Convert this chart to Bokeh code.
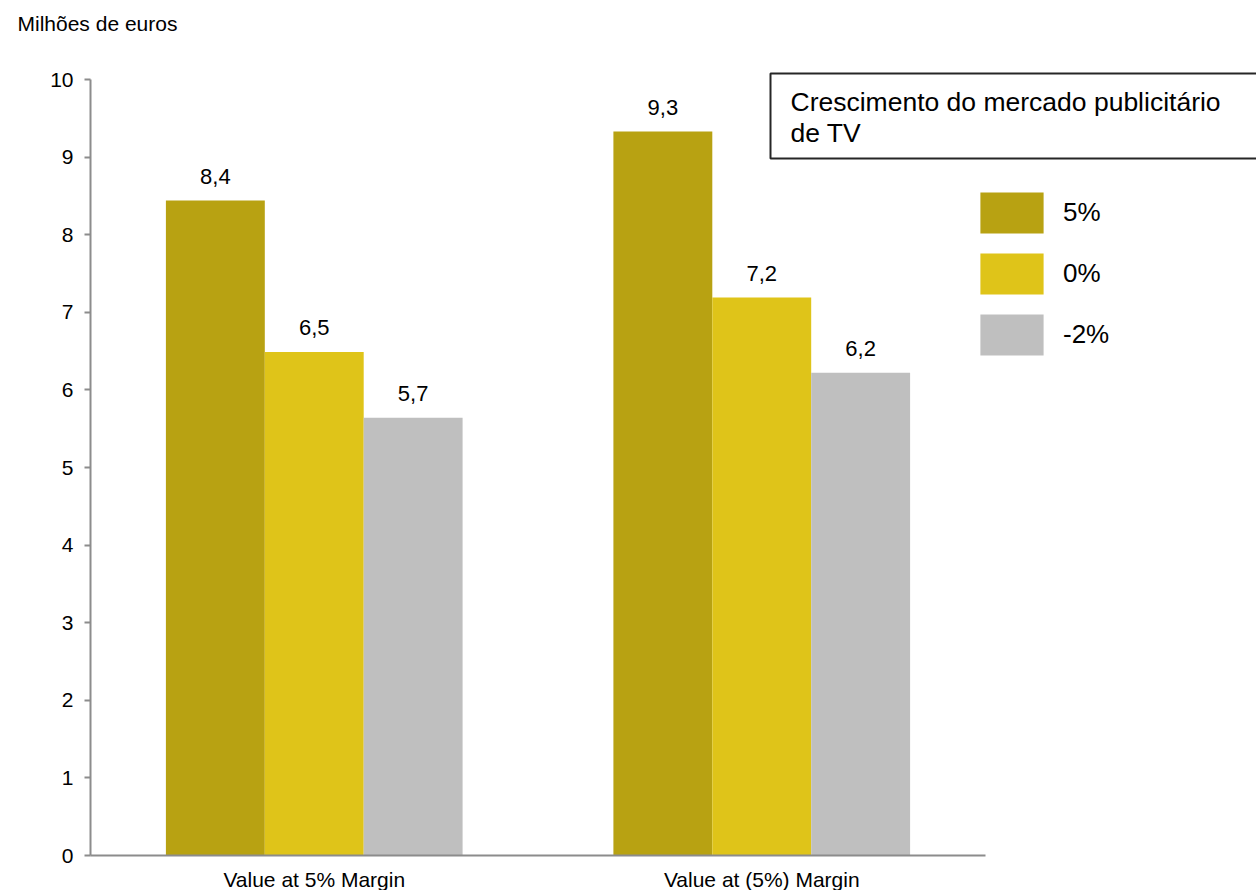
import numpy as np
from bokeh.plotting import figure
from bokeh.models import (ColumnDataSource, Range1d, FixedTicker, Legend, LegendItem,
                          Label, BoxAnnotation)
from bokeh.core.properties import value
from bokeh.embed import file_html
from bokeh.resources import INLINE

# ---- data ----
groups = ["Value at 5% Margin", "Value at (5%) Margin"]
series_names = ["5%", "0%", "-2%"]
growth_5 = [8.44, 9.33]
growth_0 = [6.49, 7.19]
growth_m2 = [5.64, 6.22]
labels_5 = ["8,4", "9,3"]
labels_0 = ["6,5", "7,2"]
labels_m2 = ["5,7", "6,2"]
y_ticks = [0, 1, 2, 3, 4, 5, 6, 7, 8, 9, 10]
unit_label = "Milhões de euros"
legend_title_lines = ["Crescimento do mercado publicitário", "de TV"]

# ---- styles / layout ----
FONT = "Liberation Sans"
bar_colors = ["#B8A212", "#DFC419", "#BFBFBF"]
AXIS_COLOR = "#8C8C8C"
BAR_W = 0.221
W, H = 1256, 890
AX_LEFT, AX_BOTTOM = 90, 855          # pixel position of the axes' origin
PX_PER_GROUP, PX_PER_UNIT = 447.5, 77.6

centers = np.arange(len(groups)) + 0.5
x_range = Range1d(-AX_LEFT / PX_PER_GROUP, (W - AX_LEFT) / PX_PER_GROUP)
y_range = Range1d(-(H - AX_BOTTOM) / PX_PER_UNIT, AX_BOTTOM / PX_PER_UNIT)

p = figure(width=W, height=H, x_range=x_range, y_range=y_range,
           output_backend="svg", toolbar_location=None,
           min_border_left=0, min_border_right=0, min_border_top=0, min_border_bottom=0)
p.outline_line_color = None
p.grid.grid_line_color = None
p.background_fill_color = "white"
p.border_fill_color = "white"

series = [growth_5, growth_0, growth_m2]
labels = [labels_5, labels_0, labels_m2]
offsets = [-BAR_W, 0.0, BAR_W]
leg_items = []
for name, vals, labs, off, color in zip(series_names, series, labels, offsets, bar_colors):
    src = ColumnDataSource(dict(x=centers + off, top=vals, lab=labs))
    r = p.vbar(x="x", top="top", width=BAR_W, source=src, fill_color=color, line_color=None)
    leg_items.append(LegendItem(label=name, renderers=[r]))
    p.text(x="x", y="top", text="lab", source=src,
           text_align="center", text_baseline="alphabetic", y_offset=-24,
           text_font=value(FONT), text_font_size="22px", text_color="black")

legend = Legend(items=leg_items, location=(972, H - 360), orientation="vertical",
                glyph_width=79, glyph_height=51, spacing=10, padding=0, margin=0,
                label_standoff=12, label_text_font=FONT, label_text_font_size="26px",
                label_text_color="black", border_line_color=None, background_fill_alpha=0)
p.add_layout(legend)

# y axis
p.yaxis.fixed_location = 0
p.yaxis.bounds = (0, 10)
p.yaxis.ticker = FixedTicker(ticks=y_ticks)
p.yaxis.axis_line_color = AXIS_COLOR
p.yaxis.axis_line_width = 2
p.yaxis.major_tick_line_color = AXIS_COLOR
p.yaxis.major_tick_line_width = 2
p.yaxis.major_tick_out = 6
p.yaxis.major_tick_in = 0
p.yaxis.minor_tick_line_color = None
p.yaxis.major_label_standoff = 11
p.yaxis.major_label_text_font = FONT
p.yaxis.major_label_text_font_size = "21px"
p.yaxis.major_label_text_color = "black"

# x axis
p.xaxis.fixed_location = 0
p.xaxis.bounds = (0, len(groups))
p.xaxis.ticker = FixedTicker(ticks=list(centers))
p.xaxis.major_label_overrides = {float(c): g for c, g in zip(centers, groups)}
p.xaxis.axis_line_color = AXIS_COLOR
p.xaxis.axis_line_width = 2
p.xaxis.major_tick_line_color = None
p.xaxis.minor_tick_line_color = None
p.xaxis.major_label_standoff = 6
p.xaxis.major_label_text_font = FONT
p.xaxis.major_label_text_font_size = "21px"
p.xaxis.major_label_text_color = "black"

# unit label
p.add_layout(Label(x=17, y=H - 23, x_units="screen", y_units="screen", text=unit_label,
                   text_font=FONT, text_font_size="21px", text_color="black",
                   text_baseline="alphabetic"))

# legend title box
p.add_layout(BoxAnnotation(left=770, right=1300, bottom=H - 158, top=H - 73,
                           left_units="screen", right_units="screen",
                           bottom_units="screen", top_units="screen",
                           fill_alpha=0, fill_color=None, line_color="#262626",
                           line_alpha=1, line_width=2))
for i, line in enumerate(legend_title_lines):
    p.add_layout(Label(x=790, y=H - 101 - 31 * i, x_units="screen", y_units="screen", text=line,
                       text_font=FONT, text_font_size="26.5px", text_color="black",
                       text_baseline="alphabetic"))

open("out.html", "w").write(file_html(p, INLINE))
